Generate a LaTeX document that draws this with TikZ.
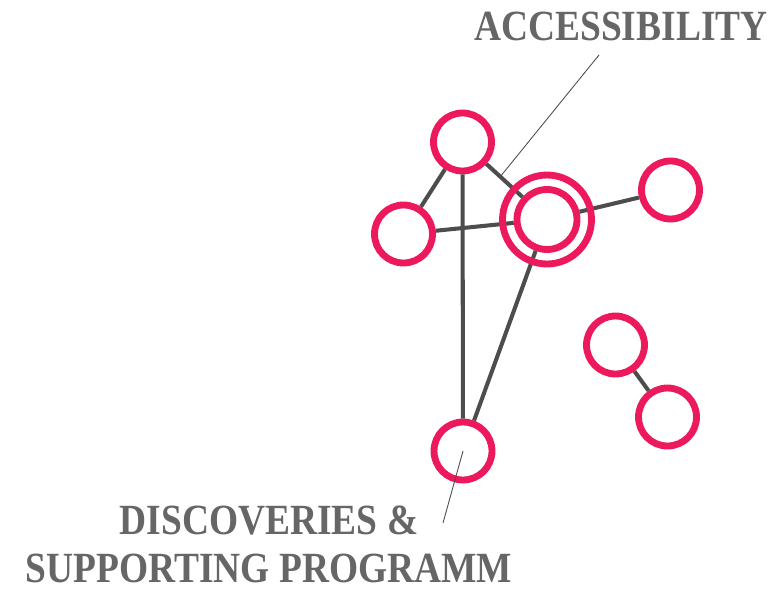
\documentclass[tikz,border=0pt]{standalone}
\usepackage{fontspec}
\usepackage{tikz}
\newfontfamily\labfont{Liberation Serif}[FakeStretch=0.87]
\definecolor{nodepink}{RGB}{236,26,92}
\definecolor{edgegray}{RGB}{77,77,77}
\definecolor{labgray}{RGB}{102,102,102}

\begin{document}
\begin{tikzpicture}[x=0.02cm,y=-0.02cm,
  hub/.style={circle,draw=nodepink,line width=3.9pt,fill=white,inner sep=0pt,minimum size=1.16cm},
  ring/.style={circle,draw=nodepink,line width=3.9pt,inner sep=0pt,minimum size=1.78cm},
  link/.style={edgegray,line width=2.3pt},
  pointer/.style={edgegray,line width=0.5pt},
  caption/.style={text=labgray,font=\labfont\bfseries\fontsize{24.5}{28}\selectfont,inner sep=0pt,text depth=0pt}]
\useasboundingbox (0,0) rectangle (784,589);
% nodes
\node[hub] (top) at (462.5,142) {};
\node[hub] (left) at (403.5,234) {};
\node[hub,minimum size=1.2cm] (core) at (547,219.5) {};
\node[hub] (right) at (670.5,190) {};
\node[hub] (bottom) at (463,451) {};
\node[hub] (pairA) at (615.5,345) {};
\node[hub] (pairB) at (667.5,417) {};
% edges
\draw[link] (top) -- (left);
\draw[link] (top) -- (bottom);
\draw[link] (top) -- (core);
\draw[link] (left) -- (core);
\draw[link] (core) -- (right);
\draw[link] (core) -- (bottom);
\draw[link] (pairA) -- (pairB);
\node[ring] (coreRing) at (core) {};
% labels
\node[caption,anchor=base east] (access) at (768,40) {ACCESSIBILITY};
\node[caption,anchor=base] (discA) at (269,534) {DISCOVERIES \&};
\node[caption,anchor=base] (discB) at (269,582) {SUPPORTING PROGRAMM};
\coordinate (accessTip) at (599,55);
\coordinate (accessEnd) at (500,177);
\coordinate (discTip) at (443,523);
\draw[pointer] (accessTip) -- (accessEnd);
\draw[pointer] (discTip) -- (bottom.center);
\end{tikzpicture}
\end{document}
